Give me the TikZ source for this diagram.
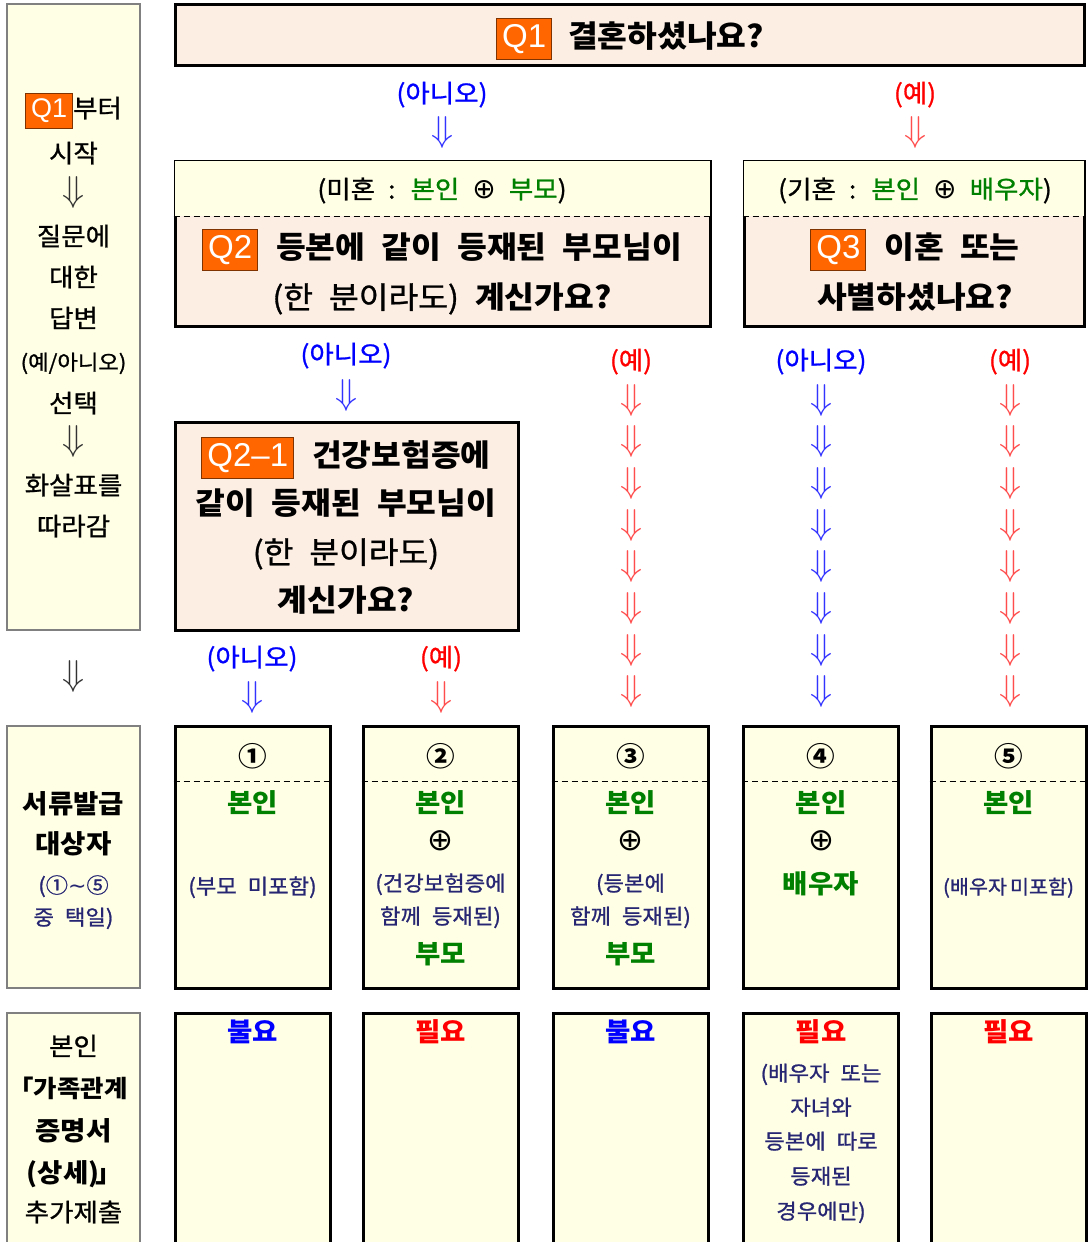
\documentclass[tikz,border=0pt]{standalone}
\usepackage{graphicx}
\usepackage{fontspec}
\setmainfont{Noto Sans CJK KR}[WordSpace=2.2, FakeStretch=1.06, UprightFeatures={FakeBold=1}]
\newfontfamily\tagfont{Liberation Sans}
\newfontfamily\symfont{DejaVu Sans}

\definecolor{peach}{HTML}{FDEEE4}
\definecolor{cream}{HTML}{FFFFE6}
\definecolor{tagorange}{HTML}{FF6600}
\definecolor{tagedge}{HTML}{7F3300}
\definecolor{okgreen}{HTML}{008000}
\definecolor{navy}{HTML}{262673}

\newcommand{\qtag}[2][33]{{\setlength{\fboxsep}{5pt}\setlength{\fboxrule}{1pt}\fcolorbox{tagedge}{tagorange}{\tagfont\mdseries\fontsize{#1}{#1}\selectfont\color{white}#2}}}
\newcommand{\dn}{\scalebox{3.6}{$\Downarrow$}}
\newcommand{\oplusmark}[1][28]{{\symfont\fontsize{#1}{#1}\selectfont ⊕}}
\newcommand{\grn}[1]{\textcolor{okgreen}{#1}}
\newcommand{\bigq}{\fontsize{30.5}{30.5}\selectfont\bfseries}
\newcommand{\midtxt}{\fontsize{25}{25}\selectfont}
\newcommand{\midbold}{\fontsize{26}{26}\selectfont\bfseries}
\newcommand{\smalltxt}{\fontsize{21}{21}\selectfont}

\begin{document}
\begin{tikzpicture}[x=1pt, y=-1pt,
  box/.style={draw, line width=3pt, rectangle, inner sep=0pt},
  qbox/.style={box, fill=peach},
  abox/.style={box, fill=cream},
  sidebox/.style={draw=gray, line width=1.2pt, fill=cream, inner sep=0pt},
  txt/.style={anchor=base, align=center, inner sep=0pt},
  ques/.style={txt, font=\bigq},
  side/.style={txt, font=\midtxt},
  sidebold/.style={txt, font=\midbold},
  note/.style={txt, font=\smalltxt, text=navy},
  who/.style={txt, font=\midbold, text=okgreen},
  yes/.style={txt, font=\midtxt, text=red},
  no/.style={txt, font=\midtxt, text=blue},
  yesdn/.style={txt, text=red!70},
  nodn/.style={txt, text=blue!80},
  blackdn/.style={txt, text=black!80},
  sep/.style={line width=1pt, dash pattern=on 6pt off 4pt}]

\useasboundingbox (0,0) rectangle (1087,1242);

\node[sidebox, minimum width=133pt, minimum height=626pt] (guide) at (73.5,317) {};
\node[sidebox, minimum width=133pt, minimum height=262pt] (target) at (73.5,857) {};
\node[sidebox, minimum width=133pt, minimum height=247pt] (extra) at (73.5,1136.5) {};

\node[side] (g1) at (73.5,117.5) {\qtag[27]{Q1}부터};
\node[side] (g2) at (73.5,162.5) {시작};
\node[blackdn] (g3) at (73.5,201) {\dn};
\node[side] (g4) at (73.5,245.5) {질문에};
\node[side] (g5) at (73.5,286.5) {대한};
\node[side] (g6) at (73.5,327.5) {답변};
\node[txt, font=\smalltxt] (g7) at (73.5,370) {(예/아니오)};
\node[side] (g8) at (73.5,412.5) {선택};
\node[blackdn] (g9) at (73.5,450) {\dn};
\node[side] (g10) at (73.5,494.5) {화살표를};
\node[side] (g11) at (73.5,535.5) {따라감};
\node[blackdn] (gdn) at (73.5,685) {\dn};

\node[sidebold] (t1) at (73.5,813) {서류발급};
\node[sidebold] (t2) at (73.5,853) {대상자};
\node[note] (t3) at (73.5,893) {(①{\symfont\fontsize{22}{22}\selectfont ∼}⑤};
\node[note] (t4) at (73.5,925) {중 택일)};

\node[side] (e1) at (73.5,1055.5) {본인};
\node[sidebold, font=\fontsize{24}{24}\selectfont\bfseries] (e2) at (68,1097) {「가족관계};
\node[sidebold] (e3) at (73.5,1140) {증명서};
\node[sidebold] (e4) at (75,1182) {(상세)\kern-4pt」};
\node[side] (e5) at (73.5,1221.5) {추가제출};

\node[qbox, minimum width=909pt, minimum height=61pt] (q1) at (629.5,34.5) {};
\node[ques] (q1text) at (630,47.5) {\qtag{Q1}\hspace{16pt}결혼하셨나요?};

\node[no] (q1no) at (442,102.5) {(아니오)};
\node[nodn] (q1nodn) at (442,141) {\dn};
\node[yes] (q1yes) at (915,102.5) {(예)};
\node[yesdn] (q1yesdn) at (915,141) {\dn};

\coordinate (bandsep) at (0,216);
\node[qbox, minimum width=535pt, minimum height=165pt] (q2) at (442.5,243.5) {};
\fill[cream] ([xshift=1.5pt,yshift=-1.5pt]q2.north west) rectangle ([xshift=-1.5pt]q2.east |- bandsep);
\draw[sep] (q2.west |- bandsep) -- (q2.east |- bandsep);
\node[side] (q2band) at (442,198.5) {(미혼 : \grn{본인} \oplusmark{} \grn{부모})};
\node[ques] (q2a) at (442,258.5) {\qtag{Q2}\hspace{18pt}등본에 같이 등재된 부모님이};
\node[ques] (q2b) at (442,308.5) {{\mdseries (한 분이라도)} 계신가요?};

\node[qbox, minimum width=340pt, minimum height=165pt] (q3) at (914,243.5) {};
\fill[cream] ([xshift=1.5pt,yshift=-1.5pt]q3.north west) rectangle ([xshift=-1.5pt]q3.east |- bandsep);
\draw[sep] (q3.west |- bandsep) -- (q3.east |- bandsep);
\node[side] (q3band) at (915,198.5) {(기혼 : \grn{본인} \oplusmark{} \grn{배우자})};
\node[ques] (q3a) at (915,258.5) {\qtag{Q3}\hspace{18pt}이혼 또는};
\node[ques] (q3b) at (915,308.5) {사별하셨나요?};

\node[no] (q2no) at (346,363.5) {(아니오)};
\node[nodn] (q2nodn) at (346,404) {\dn};
\node[yes] (q2yes) at (631,369.5) {(예)};
\node[no] (q3no) at (821,369.5) {(아니오)};
\node[yes] (q3yes) at (1010,369.5) {(예)};
\foreach \i in {0,...,7} {
  \node[yesdn] (q2yesdn\i) at (631,{409+41.7*\i}) {\dn};
  \node[nodn] (q3nodn\i) at (821,{409+41.7*\i}) {\dn};
  \node[yesdn] (q3yesdn\i) at (1010,{409+41.7*\i}) {\dn};
}

\node[qbox, minimum width=343pt, minimum height=208pt] (q21) at (346.5,526) {};
\node[ques] (q21a) at (346,466.5) {\qtag{Q2–1}\hspace{18pt}건강보험증에};
\node[ques] (q21b) at (346,514.5) {같이 등재된 부모님이};
\node[ques] (q21c) at (346,563.5) {\mdseries (한 분이라도)};
\node[ques] (q21d) at (346,611.5) {계신가요?};

\node[no] (q21no) at (252,666.5) {(아니오)};
\node[nodn] (q21nodn) at (252,706) {\dn};
\node[yes] (q21yes) at (441,666.5) {(예)};
\node[yesdn] (q21yesdn) at (441,706) {\dn};

\coordinate (ressep) at (0,781);
\foreach \n/\x/\c in {1/252.5/①, 2/440.5/②, 3/630.5/③, 4/821/④, 5/1008.5/⑤} {
  \node[abox, minimum width=155pt, minimum height=262pt] (res\n) at (\x,857) {};
  \node[abox, minimum width=155pt, minimum height=247pt] (need\n) at (\x,1136.5) {};
  \draw[sep] (res\n.west |- ressep) -- (res\n.east |- ressep);
  \node[txt, font=\fontsize{27}{27}\selectfont\bfseries] (num\n) at (\x,766) {\c};
  \node[who] (self\n) at (\x,812) {본인};
}

\node[note] (r1) at (252.5,894) {(부모 미포함)};

\node[txt] (r2p) at (440.5,850) {\oplusmark[31]};
\node[note] (r2a) at (440.5,891) {(건강보험증에};
\node[note] (r2b) at (440.5,924) {함께 등재된)};
\node[who] (r2c) at (440.5,963) {부모};

\node[txt] (r3p) at (630.5,850) {\oplusmark[31]};
\node[note] (r3a) at (630.5,891) {(등본에};
\node[note] (r3b) at (630.5,924) {함께 등재된)};
\node[who] (r3c) at (630.5,963) {부모};

\node[txt] (r4p) at (821,850) {\oplusmark[31]};
\node[who] (r4c) at (821,893) {배우자};

\node[note, font=\fontsize{19.5}{19.5}\selectfont] (r5) at (1008.5,894) {(배우자\hspace{3pt}미포함)};

\node[txt, font=\midbold, text=blue] (n1) at (252.5,1041.5) {불요};
\node[txt, font=\midbold, text=red] (n2) at (440.5,1041.5) {필요};
\node[txt, font=\midbold, text=blue] (n3) at (630.5,1041.5) {불요};
\node[txt, font=\midbold, text=red] (n4) at (821,1041.5) {필요};
\node[txt, font=\midbold, text=red] (n5) at (1008.5,1041.5) {필요};

\node[note] (n4a) at (821,1081) {(배우자 또는};
\node[note] (n4b) at (821,1115) {자녀와};
\node[note] (n4c) at (821,1149) {등본에 따로};
\node[note] (n4d) at (821,1184) {등재된};
\node[note] (n4e) at (821,1219) {경우에만)};

\end{tikzpicture}
\end{document}
